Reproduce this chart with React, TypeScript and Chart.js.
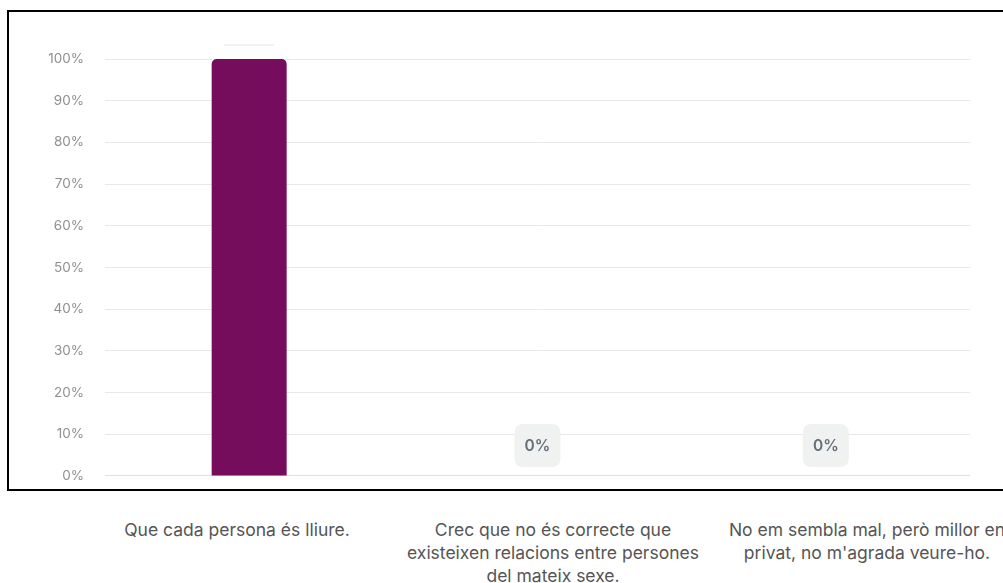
import React, { useEffect, useRef } from "react";
import { Chart, registerables } from "chart.js";

Chart.register(...registerables);

const categories: string[][] = [
  ["Que cada persona és lliure."],
  ["Crec que no és correcte que", "existeixen relacions entre persones", "del mateix sexe."],
  ["No em sembla mal, però millor en", "privat, no m'agrada veure-ho."],
];
const values: number[] = [100, 0, 0];
const yTicks: number[] = [0, 10, 20, 30, 40, 50, 60, 70, 80, 90, 100];
const labelCenters: number[] = [237, 553, 867];

const BAR_COLOR = "#760C5C";

function roundRect(ctx: CanvasRenderingContext2D, x: number, y: number, w: number, h: number, r: number) {
  ctx.beginPath();
  ctx.moveTo(x + r, y);
  ctx.lineTo(x + w - r, y);
  ctx.quadraticCurveTo(x + w, y, x + w, y + r);
  ctx.lineTo(x + w, y + h - r);
  ctx.quadraticCurveTo(x + w, y + h, x + w - r, y + h);
  ctx.lineTo(x + r, y + h);
  ctx.quadraticCurveTo(x, y + h, x, y + h - r);
  ctx.lineTo(x, y + r);
  ctx.quadraticCurveTo(x, y, x + r, y);
  ctx.closePath();
}

const valueLabelPlugin = {
  id: "valueLabels",
  afterDatasetsDraw(chart: any) {
    const ctx: CanvasRenderingContext2D = chart.ctx;
    const meta = chart.getDatasetMeta(0);
    meta.data.forEach((bar: any, i: number) => {
      const v = values[i];
      const text = v + "%";
      ctx.save();
      if (v > 0) {
        const w = 56;
        const y = bar.y - 14;
        ctx.strokeStyle = "#ececec";
        ctx.lineWidth = 1.5;
        ctx.beginPath();
        ctx.moveTo(bar.x - w / 2 + 3, y);
        ctx.lineTo(bar.x + w / 2 - 3, y);
        ctx.stroke();
      } else {
        const w = 46;
        const h = 43;
        const bottom = bar.y - 9;
        const x = bar.x - w / 2;
        roundRect(ctx, x, bottom - h, w, h, 9);
        ctx.fillStyle = "#f0f2f2";
        ctx.fill();
        ctx.font = "600 15.5px Inter, 'Noto Sans', sans-serif";
        ctx.fillStyle = "#66717c";
        ctx.textAlign = "center";
        ctx.textBaseline = "middle";
        ctx.fillText(text, bar.x, bottom - h / 2 + 1);
      }
      ctx.restore();
    });
  },
};

export default function App() {
  const canvasRef = useRef<HTMLCanvasElement | null>(null);

  useEffect(() => {
    document.documentElement.style.overflow = "hidden";
    document.body.style.overflow = "hidden";
    const canvas = canvasRef.current;
    if (!canvas) return;
    const chart = new Chart(canvas, {
      type: "bar",
      data: {
        labels: categories,
        datasets: [
          {
            data: values,
            backgroundColor: BAR_COLOR,
            borderRadius: { topLeft: 5, topRight: 5, bottomLeft: 0, bottomRight: 0 },
            borderSkipped: "bottom",
            barPercentage: 0.52,
            categoryPercentage: 0.5,
          },
        ],
      },
      options: {
        animation: false,
        responsive: false,
        maintainAspectRatio: false,
        layout: { padding: { top: 59, bottom: 3, left: 0, right: 33 } },
        plugins: {
          legend: { display: false },
          tooltip: { enabled: false },
        },
        scales: {
          x: { display: false },
          y: {
            min: 0,
            max: 100,
            afterFit: (scale: any) => {
              scale.width = 105;
            },
            afterBuildTicks: (scale: any) => {
              scale.ticks = yTicks.map((v) => ({ value: v }));
            },
            border: { display: false },
            grid: {
              drawTicks: false,
              tickLength: 0,
              color: (c: any) => (c.tick && c.tick.value === 0 ? "#dcdff2" : "#e8e8e8"),
              lineWidth: 1,
            },
            ticks: {
              padding: 21,
              color: "#8f8f8f",
              font: { family: "Inter, 'Noto Sans', sans-serif", size: 13.5 },
              callback: (v: any) => v + "%",
            },
          },
        },
      },
      plugins: [valueLabelPlugin],
    });
    return () => chart.destroy();
  }, []);

  return (
    <div
      style={{
        position: "fixed",
        left: 0,
        top: 0,
        width: 1003,
        height: 583,
        overflow: "hidden",
        background: "#ffffff",
        fontFamily: "Inter, 'Noto Sans', sans-serif",
      }}
    >
      <canvas
        ref={canvasRef}
        width={1003}
        height={505}
        style={{ position: "absolute", left: 0, top: 0, width: 1003, height: 505 }}
      />
      <div
        style={{
          position: "absolute",
          left: 7,
          top: 10,
          width: 1100,
          height: 481,
          boxSizing: "border-box",
          border: "2px solid #000",
          background: "transparent",
          pointerEvents: "none",
        }}
      />
      {categories.map((lines, i) => (
        <div
          key={i}
          style={{
            position: "absolute",
            left: labelCenters[i] - 200,
            top: 518,
            width: 400,
            textAlign: "center",
            fontSize: 17.5,
            lineHeight: "23px",
            color: "#555555",
            whiteSpace: "nowrap",
          }}
        >
          {lines.map((l, j) => (
            <div key={j}>{l}</div>
          ))}
        </div>
      ))}
    </div>
  );
}
